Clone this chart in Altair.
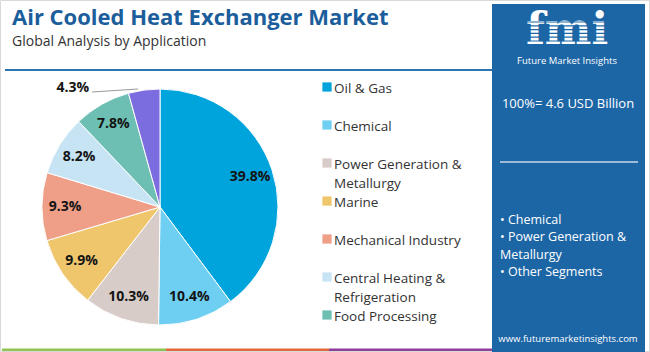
import altair as alt
import pandas as pd

# ---------------- data ----------------
categories = ["Oil & Gas", "Chemical", "Power Generation & Metallurgy", "Marine",
              "Mechanical Industry", "Central Heating & Refrigeration",
              "Food Processing", "Others"]
shares = [39.8, 10.4, 10.3, 9.9, 9.3, 8.2, 7.8, 4.3]
colors = ["#00a4dd", "#6ecff2", "#d8ccc8", "#efc66b", "#ef9f87", "#c7e4f4",
          "#6cbfb2", "#7b6ce0"]
legend_labels = ["Oil & Gas", "Chemical", "Power Generation &\nMetallurgy", "Marine",
                 "Mechanical Industry", "Central Heating &\nRefrigeration",
                 "Food Processing"]
title_text = "Air Cooled Heat Exchanger Market"
subtitle_text = "Global Analysis by Application"
total_text = "100%= 4.6 USD Billion"
bullet_lines = ["• Chemical", "• Power Generation &", "Metallurgy", "• Other Segments"]
url_text = "www.futuremarketinsights.com"
brand_text = "Future Market Insights"

FONT = "Open Sans"
TITLE_BLUE = "#1b5e9b"
PANEL_BLUE = "#1d66a6"

pie_df = pd.DataFrame({
    "category": categories,
    "share": shares,
    "order": list(range(len(categories))),
})
pie_df["inner"] = [f"{s}%" if c != "Others" else "" for c, s in zip(categories, shares)]
pie_df["outer"] = [f"{s}%" if c == "Others" else "" for c, s in zip(categories, shares)]

legend_df = pd.DataFrame({
    "category": categories[:7],
    "text": legend_labels,
    "idx": list(range(7)),
})

one = pd.DataFrame({"k": [0]})
bullets_df = pd.DataFrame({"line": bullet_lines, "i": list(range(len(bullet_lines)))})

CX, CY, R = 160, 207, 118
color_scale = alt.Scale(domain=categories, range=colors)
theta_scale = alt.Scale(domain=[0, 100])

# ---------------- frame / decorations ----------------
frame = alt.Chart(one).mark_rect(fill="white", stroke="#d9d9d9", strokeWidth=1).encode(
    x=alt.value(0.5), x2=alt.value(649.5), y=alt.value(0.5), y2=alt.value(351.5))

title = alt.Chart(one).mark_text(
    text=title_text, font=FONT, fontSize=22, fontWeight="bold", color=TITLE_BLUE,
    align="left", baseline="alphabetic").encode(x=alt.value(12), y=alt.value(25))

subtitle = alt.Chart(one).mark_text(
    text=subtitle_text, font=FONT, fontSize=14, color="#333333",
    align="left", baseline="alphabetic").encode(x=alt.value(12), y=alt.value(46))

top_rule = alt.Chart(one).mark_rule(color="#2f72b0", strokeWidth=2).encode(
    x=alt.value(5), x2=alt.value(493), y=alt.value(70))

bottom_green = alt.Chart(one).mark_rect(fill="#90c350").encode(
    x=alt.value(2), x2=alt.value(166), y=alt.value(348.5), y2=alt.value(351))
bottom_orange = alt.Chart(one).mark_rect(fill="#e4683c").encode(
    x=alt.value(166), x2=alt.value(329), y=alt.value(348.5), y2=alt.value(351))
bottom_purple = alt.Chart(one).mark_rect(fill="#8e3e98").encode(
    x=alt.value(329), x2=alt.value(493), y=alt.value(348.5), y2=alt.value(351))

panel = alt.Chart(one).mark_rect(fill=PANEL_BLUE).encode(
    x=alt.value(492), x2=alt.value(645), y=alt.value(4), y2=alt.value(352))

logo = alt.Chart(one).mark_text(
    text="fmi", font="DejaVu Serif", fontSize=44, fontWeight="bold", color="white",
    align="center", baseline="alphabetic").encode(x=alt.value(567), y=alt.value(44))

stripes_df = pd.DataFrame({"s": [0, 1, 2, 3, 4, 5]})
stripes = alt.Chart(stripes_df).mark_rule(color=PANEL_BLUE, strokeWidth=1.2).encode(
    x=alt.value(512), x2=alt.value(622),
    y=alt.Y("s:Q", scale=alt.Scale(domain=[0, 5], range=[22, 41]), axis=None))

brand = alt.Chart(one).mark_text(
    text=brand_text, font=FONT, fontSize=9.5, color="white",
    align="center", baseline="middle").encode(x=alt.value(567), y=alt.value(61))

total = alt.Chart(one).mark_text(
    text=total_text, font=FONT, fontSize=13, color="white",
    align="center", baseline="middle").encode(x=alt.value(568), y=alt.value(104))

panel_rule = alt.Chart(one).mark_rule(color="#c9d9ea", strokeWidth=1.5).encode(
    x=alt.value(500), x2=alt.value(638), y=alt.value(162))

bullets = alt.Chart(bullets_df).mark_text(
    font=FONT, fontSize=12.5, color="white", align="left", baseline="middle").encode(
    x=alt.value(500),
    y=alt.Y("i:Q", scale=alt.Scale(domain=[0, 3], range=[220, 272]), axis=None),
    text="line:N")

url = alt.Chart(one).mark_text(
    text=url_text, font=FONT, fontSize=9.5, color="white",
    align="center", baseline="middle").encode(x=alt.value(568), y=alt.value(339))

# ---------------- pie ----------------
base = alt.Chart(pie_df)

arcs = base.mark_arc(radius=R, stroke="white", strokeWidth=1).encode(
    theta=alt.Theta("share:Q", stack=True, scale=theta_scale),
    color=alt.Color("category:N", scale=color_scale, legend=None),
    order=alt.Order("order:Q"),
    x=alt.value(CX), y=alt.value(CY))

inner_labels = base.mark_text(
    radius=95, font=FONT, fontSize=14, fontWeight="bold", color="#141414",
    align="center", baseline="middle").encode(
    theta=alt.Theta("share:Q", stack=True, scale=theta_scale),
    order=alt.Order("order:Q"),
    text="inner:N",
    x=alt.value(CX), y=alt.value(CY))

outer_label = base.mark_text(
    radius=125, dx=-54, dy=5, font=FONT, fontSize=14, fontWeight="bold", color="#141414",
    align="right", baseline="middle").encode(
    theta=alt.Theta("share:Q", stack=True, scale=theta_scale),
    order=alt.Order("order:Q"),
    text="outer:N",
    x=alt.value(CX), y=alt.value(CY))

leader = alt.Chart(one).mark_rule(color="#9a9a9a", strokeWidth=1).encode(
    x=alt.value(92), x2=alt.value(138), y=alt.value(92), y2=alt.value(89))

# ---------------- legend ----------------
leg_y = alt.Y("idx:Q", scale=alt.Scale(domain=[0, 6], range=[87, 315]), axis=None)

leg_sq = alt.Chart(legend_df).mark_square(size=85, opacity=1).encode(
    x=alt.value(327), y=leg_y,
    color=alt.Color("category:N", scale=color_scale, legend=None))

leg_txt = alt.Chart(legend_df).mark_text(
    font=FONT, fontSize=13.5, color="#333333", align="left", baseline="top",
    dy=-5.5, lineHeight=19, lineBreak="\n").encode(
    x=alt.value(334), y=leg_y, text="text:N")

chart = alt.layer(
    frame, title, subtitle, top_rule, bottom_green, bottom_orange, bottom_purple,
    panel, logo, stripes, brand, total, panel_rule, bullets, url,
    arcs, inner_labels, outer_label, leader, leg_sq, leg_txt
).resolve_scale(y="independent").properties(
    width=650, height=352, padding=0, autosize="none", background="white"
).configure_view(stroke=None)

chart.save("out.html", embed_options={"renderer": "svg", "actions": False})
